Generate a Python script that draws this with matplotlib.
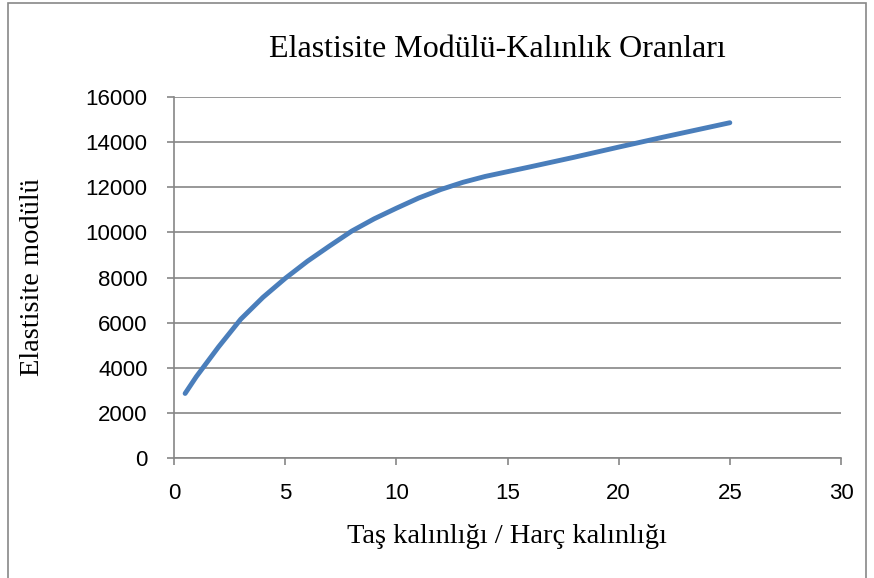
import matplotlib
matplotlib.use("Agg")
import matplotlib.pyplot as plt
from matplotlib.patches import Rectangle

ratio = [0.5, 1, 2, 3, 4, 5, 6, 7, 8, 9, 10, 11, 12, 13, 14, 15, 16, 18, 20, 22, 25]
modulus = [2860, 3600, 4920, 6150, 7120, 7960, 8720, 9400, 10060, 10600, 11070,
           11520, 11900, 12220, 12480, 12690, 12900, 13330, 13780, 14220, 14860]
xticks = [0, 5, 10, 15, 20, 25, 30]
yticks = [0, 2000, 4000, 6000, 8000, 10000, 12000, 14000, 16000]

title = "Elastisite Modülü-Kalınlık Oranları"
xlabel = "Taş kalınlığı / Harç kalınlığı"
ylabel = "Elastisite modülü"

W, H = 874, 578
fig = plt.figure(figsize=(W / 100, H / 100), dpi=100)
fig.patch.set_facecolor("white")

# outer chart frame
fig.patches.append(Rectangle((8 / W, -0.01), (866 - 8) / W, 1 - 3 / H + 0.01,
                             transform=fig.transFigure, fill=False,
                             edgecolor="#888888", linewidth=1.2))

left, right, top, bottom = 174, 841, 97, 458
ax = fig.add_axes([left / W, 1 - bottom / H, (right - left) / W, (bottom - top) / H])

grid_c = "#868686"
ax.plot(ratio, modulus, color="#4a7ebb", linewidth=3.5, solid_capstyle="round",
        solid_joinstyle="round", zorder=3)
ax.set_xlim(0, 30)
ax.set_ylim(0, 16000)
ax.set_xticks(xticks)
ax.set_yticks(yticks)
ax.yaxis.grid(True, color=grid_c, linewidth=1.2)
ax.set_axisbelow(True)
for s in ["top", "right"]:
    ax.spines[s].set_visible(False)
for s in ["left", "bottom"]:
    ax.spines[s].set_color(grid_c)
    ax.spines[s].set_linewidth(1.2)

tick_font = ["Liberation Sans", "DejaVu Sans"]
ax.tick_params(axis="y", direction="out", length=5, width=1.2, color=grid_c, pad=14)
ax.tick_params(axis="x", direction="out", length=5, width=1.2, color=grid_c, pad=13)
for lab in ax.get_xticklabels() + ax.get_yticklabels():
    lab.set_fontfamily(tick_font)
    lab.set_fontsize(16)

serif = ["Liberation Serif", "DejaVu Serif"]
fig.text(497 / W, 1 - 57 / H, title, ha="center", va="baseline",
         fontfamily=serif, fontsize=23)
fig.text(507 / W, 1 - 543 / H, xlabel, ha="center", va="baseline",
         fontfamily=serif, fontsize=20.5)
fig.text(33 / W, 1 - 277 / H, ylabel, ha="center", va="center", rotation=90,
         fontfamily=serif, fontsize=20.5)

fig.savefig("out.png", dpi=100)
